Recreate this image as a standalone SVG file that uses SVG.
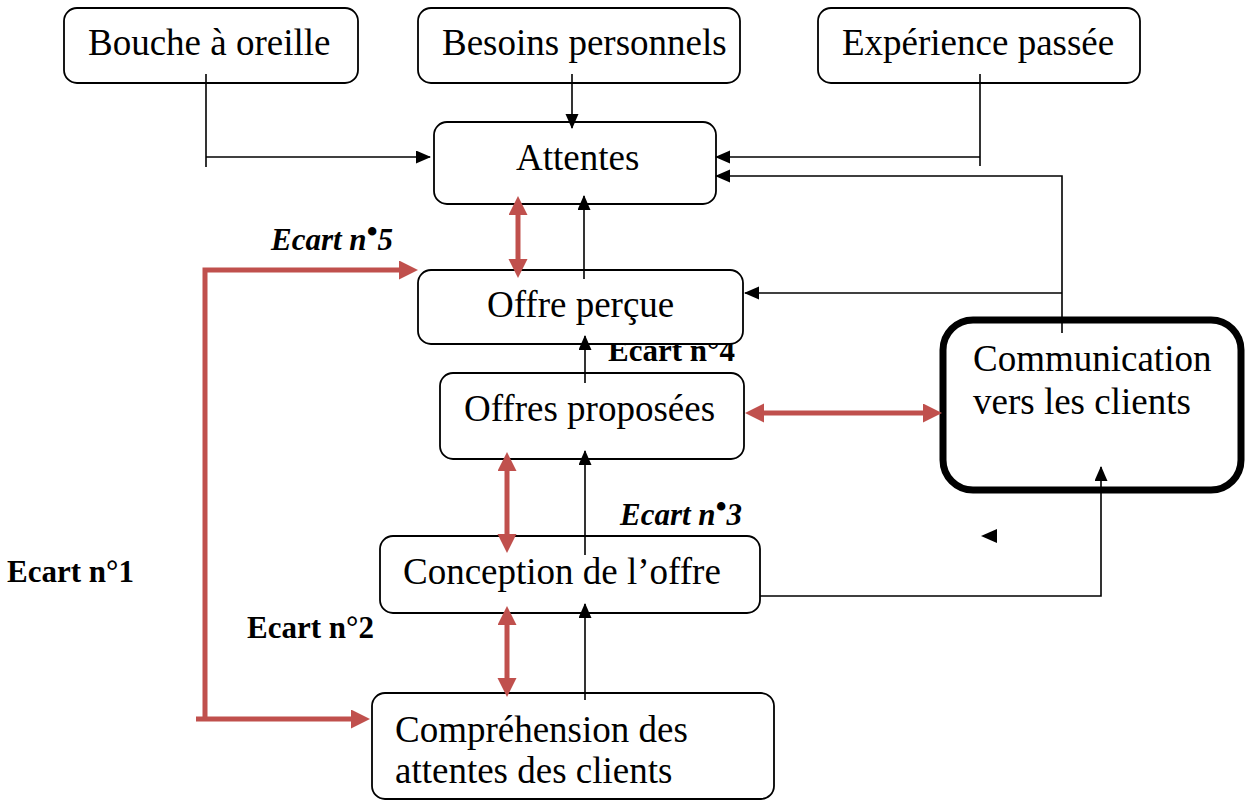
<svg xmlns="http://www.w3.org/2000/svg" width="1245" height="800" viewBox="0 0 1245 800">
<style>
.box{fill:#fff;stroke:#000;stroke-width:1.8}
.thick{fill:#fff;stroke:#000;stroke-width:7}
.lbl{font-family:"Liberation Serif","Times New Roman",serif;font-size:37px;fill:#000}
.ecart{font-family:"Liberation Serif","Times New Roman",serif;font-size:31px;font-weight:bold;fill:#000}
.it{font-style:italic}
.blk{fill:none;stroke:#000;stroke-width:1.6}
.red{fill:none;stroke:#C0504D;stroke-width:5;stroke-linejoin:miter}
</style>
<defs>
<marker id="ab" markerUnits="userSpaceOnUse" markerWidth="16" markerHeight="14" refX="14" refY="6.5" orient="auto"><path d="M0,0 L15,6.5 L0,13 z" fill="#000"/></marker>
<marker id="ar" markerUnits="userSpaceOnUse" markerWidth="20" markerHeight="20" refX="2" refY="9.5" orient="auto-start-reverse"><path d="M0,0 L19,9.5 L0,19 z" fill="#C0504D"/></marker>
</defs>
<g id="labels">
<text class="ecart it" x="271" y="250">Ecart n<tspan dy="-8">•</tspan><tspan dy="8">5</tspan></text>
<text class="ecart" x="608" y="361">Ecart n°4</text>
<text class="ecart it" x="620" y="525">Ecart n<tspan dy="-8">•</tspan><tspan dy="8">3</tspan></text>
<text class="ecart" x="7" y="582">Ecart n°1</text>
<text class="ecart" x="247" y="638">Ecart n°2</text>
</g>
<g id="bouche"><rect class="box" x="64" y="8" width="294" height="75" rx="13"/><text class="lbl" x="88" y="55">Bouche à oreille</text></g>
<g id="besoins"><rect class="box" x="418" y="8" width="322" height="75" rx="13"/><text class="lbl" x="442" y="55">Besoins personnels</text></g>
<g id="experience"><rect class="box" x="818" y="8" width="322" height="75" rx="13"/><text class="lbl" x="842" y="55">Expérience passée</text></g>
<g id="attentes"><rect class="box" x="434" y="122" width="282" height="82" rx="13"/><text class="lbl" x="516" y="170">Attentes</text></g>
<g id="offre-percue"><rect class="box" x="418" y="270" width="325" height="74" rx="13"/><text class="lbl" x="487" y="317">Offre perçue</text></g>
<g id="offres-proposees"><rect class="box" x="440" y="373" width="304" height="86" rx="13"/><text class="lbl" x="464" y="421">Offres proposées</text></g>
<g id="conception"><rect class="box" x="380" y="536" width="380" height="77" rx="13"/><text class="lbl" x="403" y="584">Conception de l’offre</text></g>
<g id="comprehension"><rect class="box" x="372" y="693" width="402" height="106" rx="13"/><text class="lbl" x="395" y="742">Compréhension des</text><text class="lbl" x="395" y="783">attentes des clients</text></g>
<g id="communication"><rect class="thick" x="943" y="320" width="298" height="170" rx="30"/><text class="lbl" x="973" y="371">Communication</text><text class="lbl" x="973" y="414">vers les clients</text></g>
<g id="connectors">
<path class="blk" d="M206,74 V167"/>
<path class="blk" d="M206,157 H430" marker-end="url(#ab)"/>
<path class="blk" d="M572,74 V128" marker-end="url(#ab)"/>
<path class="blk" d="M980,74 V166"/>
<path class="blk" d="M980,157 H716" marker-end="url(#ab)"/>
<path class="blk" d="M1062,333 V176 H716" marker-end="url(#ab)"/>
<path class="blk" d="M1062,293 H745" marker-end="url(#ab)"/>
<path class="blk" d="M584,279 V196" marker-end="url(#ab)"/>
<path class="blk" d="M585,383 V336" marker-end="url(#ab)"/>
<path class="blk" d="M585,555 V451" marker-end="url(#ab)"/>
<path class="blk" d="M585,700 V604" marker-end="url(#ab)"/>
<path class="blk" d="M760,596 H1101 V467" marker-end="url(#ab)"/>
<polygon points="981,536 997,529 997,543" fill="#000"/>
<path class="red" d="M518,213 V261" marker-start="url(#ar)" marker-end="url(#ar)"/>
<path class="red" d="M205,721 V270 H401" marker-end="url(#ar)"/>
<path class="red" d="M196,719 H353" marker-end="url(#ar)"/>
<path class="red" d="M507,469 V536" marker-start="url(#ar)" marker-end="url(#ar)"/>
<path class="red" d="M507,623 V680" marker-start="url(#ar)" marker-end="url(#ar)"/>
<path class="red" d="M762,413 H925" marker-start="url(#ar)" marker-end="url(#ar)"/>
</g>
</svg>
